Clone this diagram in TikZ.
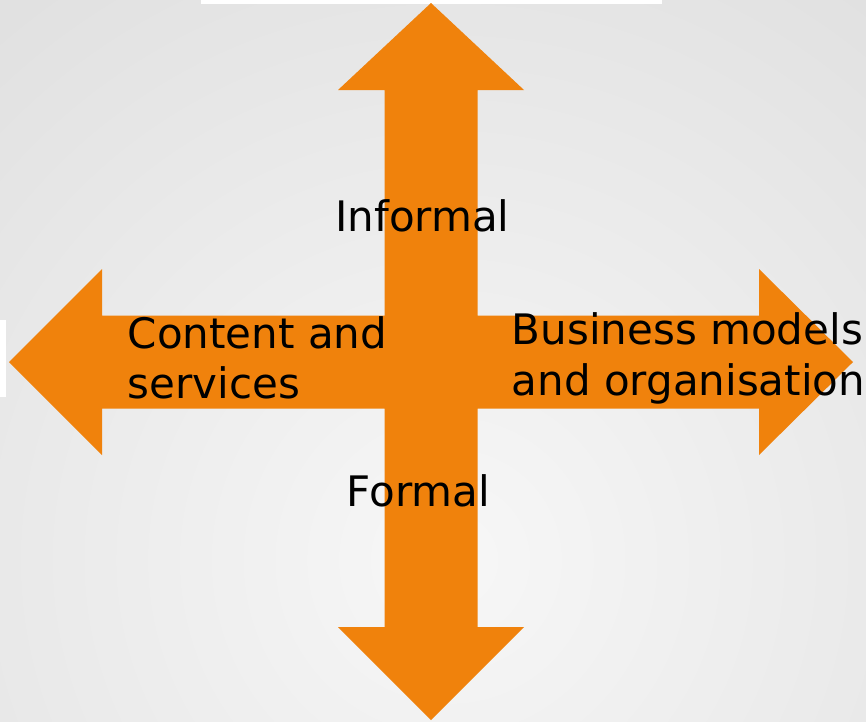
\documentclass[tikz,border=0pt]{standalone}
\usepackage{fontspec}
\setmainfont{DejaVu Sans}
\definecolor{arroworange}{RGB}{240,130,12}
\definecolor{bgouter}{RGB}{225,225,225}
\definecolor{bginner}{RGB}{247,247,247}
\begin{document}
\begin{tikzpicture}[x=1pt,y=-1pt,
  lbl/.style={inner sep=0pt,anchor=base west,font=\fontsize{42}{50}\selectfont,text=black}]
\useasboundingbox (0,0) rectangle (866,721);
% background
\begin{scope}
\clip (0,0) rectangle (866,721);
\shade[inner color=bginner,outer color=bgouter] (-250,-140) rectangle (1150,1260);
\end{scope}
\fill[white] (201,0) rectangle (662,4);
\fill[white] (0,320) rectangle (6,397);
% cross of four arrows
\fill[arroworange] (431,3) -- (524,90) -- (477.5,90) -- (477.5,315.5) -- (759,315.5) -- (759,269)
  -- (853,362) -- (759,455) -- (759,408.5) -- (477.5,408.5) -- (477.5,627) -- (524,627)
  -- (431,720) -- (338,627) -- (384.5,627) -- (384.5,408.5) -- (102,408.5) -- (102,455)
  -- (9,362) -- (102,269) -- (102,315.5) -- (384.5,315.5) -- (384.5,90) -- (338,90) -- cycle;
% labels
\node[lbl] (informal) at (335,231.5) {Informal};
\node[lbl] (formal) at (346.5,506.5) {Formal};
\node[lbl] (content1) at (127.5,348.5) {Content and};
\node[lbl] (content2) at (127.5,398.5) {services};
\node[lbl] (business1) at (511.5,344) {Business models};
\node[lbl] (business2) at (511.5,395) {and organisation};
\end{tikzpicture}
\end{document}
